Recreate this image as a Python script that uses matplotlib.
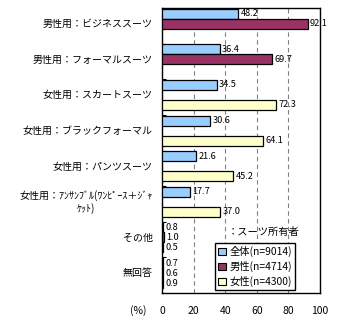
import matplotlib
matplotlib.use("Agg")
import matplotlib.pyplot as plt
from matplotlib.patches import Patch
import numpy as np

plt.rcParams["font.family"] = ["Noto Sans CJK JP", "DejaVu Sans"]

categories = [
    "男性用：ビジネススーツ",
    "男性用：フォーマルスーツ",
    "女性用：スカートスーツ",
    "女性用：ブラックフォーマル",
    "女性用：パンツスーツ",
    "女性用：ｱﾝｻﾝﾌﾞﾙ(ﾜﾝﾋﾟｰｽ＋ｼﾞｬ\nｹｯﾄ)",
    "その他",
    "無回答",
]
total = [48.2, 36.4, 34.5, 30.6, 21.6, 17.7, 0.8, 0.7]
male = [92.1, 69.7, None, None, None, None, 1.0, 0.6]
female = [None, None, 72.3, 64.1, 45.2, 37.0, 0.5, 0.9]
series_names = ["全体(n=9014)", "男性(n=4714)", "女性(n=4300)"]
colors = ["#99CCFF", "#993366", "#FFFFCC"]
x_ticks = [0, 20, 40, 60, 80, 100]

fig = plt.figure(figsize=(3.38, 3.24), dpi=100)
ax = fig.add_axes([162 / 338, 1 - 293 / 324, (320 - 162) / 338, (293 - 8) / 324])

bar_h = 0.28
offsets = [0.02, 0.30, 0.58]
n = len(categories)
for s, (vals, col) in enumerate(zip([total, male, female], colors)):
    for i, v in enumerate(vals):
        if v is None:
            continue
        y = i + offsets[s]
        ax.barh(y, v, height=bar_h, align="edge", color=col,
                edgecolor="black", linewidth=0.9, zorder=3)
        ax.text(v + 1.5, y + bar_h / 2, f"{v:.1f}", va="center", ha="left",
                fontsize=6.6, zorder=4)

for i, c in enumerate(categories):
    ax.text(-6, i + 0.45, c, ha="right", va="center", fontsize=7.2,
            multialignment="center", transform=ax.transData, clip_on=False)

ax.set_xlim(0, 100)
ax.set_ylim(n, 0)
ax.set_xticks(x_ticks)
ax.set_xticklabels([str(t) for t in x_ticks], fontsize=7.5)
ax.set_yticks(np.arange(1, n))
ax.set_yticklabels([])
ax.tick_params(axis="y", direction="in", length=3, width=0.8)
ax.tick_params(axis="x", length=0, pad=9)
ax.grid(axis="x", linestyle=(0, (4, 3)), color="#808080", linewidth=0.8, zorder=0)
for sp in ax.spines.values():
    sp.set_color("black")
    sp.set_linewidth(1)

fig.text(138 / 338, 1 - 311 / 324, "(%)", ha="center", va="center", fontsize=7.5)
fig.text(228 / 338, 1 - 232 / 324, "：スーツ所有者", ha="left", va="center", fontsize=7.4)

handles = [Patch(facecolor=c, edgecolor="black", linewidth=0.8) for c in colors]
leg = fig.legend(handles, series_names, loc="upper left",
                 bbox_to_anchor=(215 / 338, 1 - 243 / 324), fontsize=7.4,
                 fancybox=False, edgecolor="black", framealpha=1,
                 handlelength=0.8, handleheight=0.8, handletextpad=0.3,
                 labelspacing=0.38, borderpad=0.3, borderaxespad=0)
leg.get_frame().set_linewidth(1)

fig.savefig("out.png", dpi=100)
